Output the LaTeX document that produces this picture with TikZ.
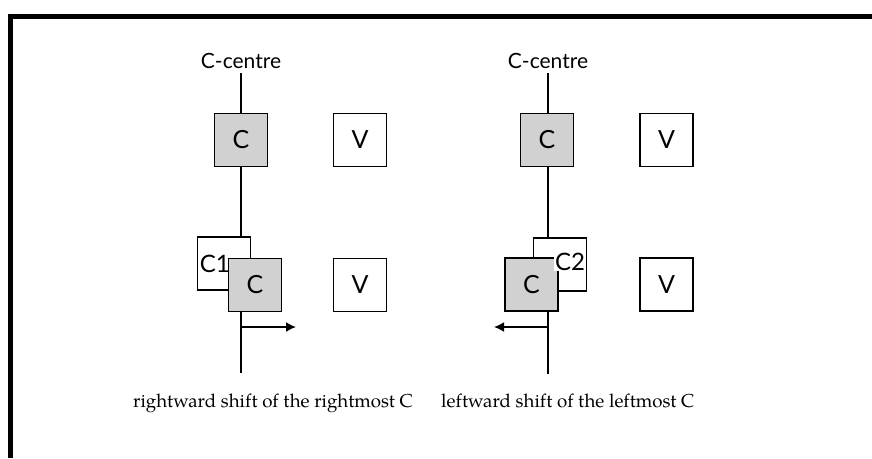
\documentclass[tikz,border=0pt]{standalone}
\usepackage{fontspec}
\setmainfont{TeX Gyre Pagella}
\newfontfamily\labelfont{Lato}
\usetikzlibrary{arrows.meta}

\definecolor{cfill}{gray}{0.82}

\tikzset{
  seg/.style={draw,line width=1.6pt,minimum size=53pt,inner sep=0pt,
    font=\labelfont\fontsize{25}{25}\selectfont},
  cseg/.style={seg,fill=cfill},
  vseg/.style={seg,fill=white},
  tag/.style={inner sep=0pt,font=\labelfont\fontsize{24}{24}\selectfont},
  centre/.style={inner sep=0pt,anchor=base,font=\labelfont\fontsize{21}{21}\selectfont},
  stem/.style={line width=1.6pt},
  shiftarrow/.style={line width=1.6pt,-{Latex[length=10pt,width=10pt]}},
  caption/.style={inner sep=0pt,anchor=base west,font=\fontsize{18.7}{20}\selectfont}
}

\begin{document}
\begin{tikzpicture}[x=1pt,y=-1pt]
  \useasboundingbox (0,0) rectangle (872,458);

  % Frame
  \draw[line width=5pt] (10.5,458) -- (10.5,16) -- (872,16);

  % Rightward shift of the rightmost C
  \node[centre] (lcentre) at (241,68) {C-centre};
  \node[cseg] (lctop) at (241,140) {C};
  \node[vseg] (lvtop) at (360,140) {V};
  \node[vseg] (lcone) at (224,263.5) {};
  \node[tag,anchor=west] (lconetag) at ([xshift=3pt]lcone.west) {C1};
  \node[cseg] (lcbot) at (255,285) {C};
  \node[vseg] (lvbot) at (360,285) {V};
  \coordinate (lend) at (241,373);
  \coordinate (lfork) at (241,327);
  \coordinate (ltip) at (296,327);
  \draw[stem] (lcentre.north |- 0,73) -- (lctop.north);
  \draw[stem] (lctop.south) -- (lctop.south |- lcone.north);
  \draw[stem] (lctop.south |- lcbot.south) -- (lend);
  \draw[shiftarrow] (lfork) -- (ltip);
  \node[caption] (lcap) at (133,407) {rightward shift of the rightmost C};

  % Leftward shift of the leftmost C
  \node[centre] (rcentre) at (548,68) {C-centre};
  \node[cseg] (rctop) at (547,140) {C};
  \node[vseg] (rvtop) at (666.5,140) {V};
  \node[vseg] (rctwo) at (560,264.5) {};
  \node[cseg] (rcbot) at (531.5,284.5) {C};
  \node[tag,fill=white,inner xsep=1pt] (rctwotag) at (570,262) {C2};
  \node[vseg] (rvbot) at (666.5,284.5) {V};
  \coordinate (rend) at (548,374);
  \coordinate (rfork) at (548,327);
  \coordinate (rtip) at (494,327);
  \draw[stem] (rcentre.north |- 0,73) -- (rcentre.north |- rctop.north);
  \draw[stem] (rcentre.north |- rctop.south) -- (rcentre.north |- rctwo.north);
  \draw[stem] (rcentre.north |- rcbot.south) -- (rend);
  \draw[shiftarrow] (rfork) -- (rtip);
  \node[caption] (rcap) at (441,407) {leftward shift of the leftmost C};
\end{tikzpicture}
\end{document}
